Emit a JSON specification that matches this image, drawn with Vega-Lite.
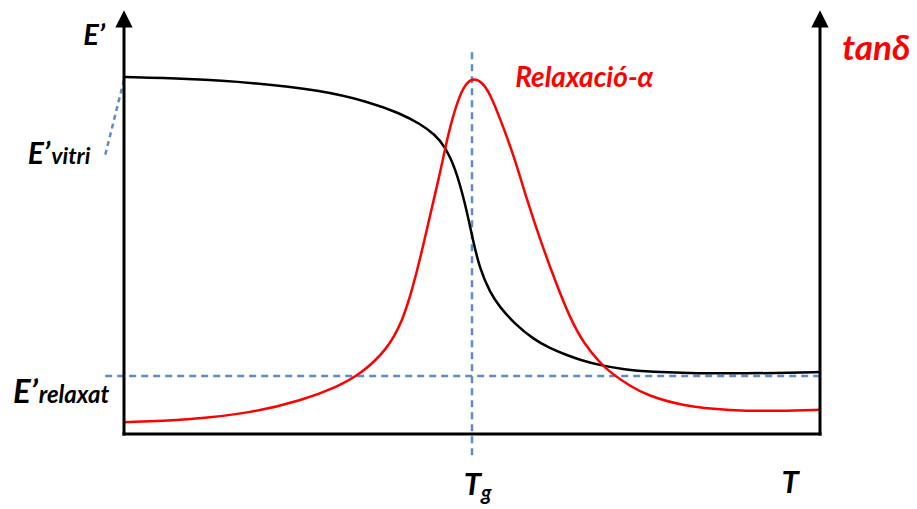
{
  "$schema": "https://vega.github.io/schema/vega-lite/v6.json",
  "autosize": "none",
  "width": 696,
  "height": 424,
  "padding": {"left": 124, "top": 10, "right": 97, "bottom": 75},
  "background": "white",
  "config": {"view": {"stroke": null}},
  "data": {"values": [{}]},
  "datasets": {
    "curves": [
      {"T": 0, "value": 84.2, "series": "E′"},
      {"T": 9.05, "value": 83.8, "series": "E′"},
      {"T": 18.5, "value": 82.9, "series": "E′"},
      {"T": 28.2, "value": 81.1, "series": "E′"},
      {"T": 35.3, "value": 78.3, "series": "E′"},
      {"T": 39.7, "value": 75.6, "series": "E′"},
      {"T": 42.5, "value": 73.2, "series": "E′"},
      {"T": 44.7, "value": 70.6, "series": "E′"},
      {"T": 46.1, "value": 67.8, "series": "E′"},
      {"T": 47.6, "value": 62.8, "series": "E′"},
      {"T": 49.0, "value": 54.5, "series": "E′"},
      {"T": 50.1, "value": 46.0, "series": "E′"},
      {"T": 51.1, "value": 39.0, "series": "E′"},
      {"T": 52.6, "value": 33.3, "series": "E′"},
      {"T": 54.0, "value": 29.9, "series": "E′"},
      {"T": 56.2, "value": 25.9, "series": "E′"},
      {"T": 58.8, "value": 22.4, "series": "E′"},
      {"T": 61.2, "value": 20.2, "series": "E′"},
      {"T": 63.6, "value": 18.6, "series": "E′"},
      {"T": 65.5, "value": 17.5, "series": "E′"},
      {"T": 68.4, "value": 16.2, "series": "E′"},
      {"T": 72.0, "value": 15.2, "series": "E′"},
      {"T": 75.1, "value": 14.7, "series": "E′"},
      {"T": 84.6, "value": 14.2, "series": "E′"},
      {"T": 94.3, "value": 14.4, "series": "E′"},
      {"T": 100, "value": 14.6, "series": "E′"},
      {"T": 0, "value": 2.8, "series": "tanδ"},
      {"T": 9.05, "value": 3.3, "series": "tanδ"},
      {"T": 18.5, "value": 5.0, "series": "tanδ"},
      {"T": 25.7, "value": 8.0, "series": "tanδ"},
      {"T": 30.6, "value": 11.1, "series": "tanδ"},
      {"T": 33.9, "value": 14.0, "series": "tanδ"},
      {"T": 37.8, "value": 19.8, "series": "tanδ"},
      {"T": 40.1, "value": 26.9, "series": "tanδ"},
      {"T": 41.5, "value": 34.7, "series": "tanδ"},
      {"T": 42.5, "value": 41.0, "series": "tanδ"},
      {"T": 44.0, "value": 51.7, "series": "tanδ"},
      {"T": 45.0, "value": 58.7, "series": "tanδ"},
      {"T": 45.8, "value": 64.6, "series": "tanδ"},
      {"T": 46.8, "value": 72.4, "series": "tanδ"},
      {"T": 48.3, "value": 80.4, "series": "tanδ"},
      {"T": 49.3, "value": 83.0, "series": "tanδ"},
      {"T": 50.3, "value": 83.9, "series": "tanδ"},
      {"T": 51.4, "value": 83.0, "series": "tanδ"},
      {"T": 52.6, "value": 80.4, "series": "tanδ"},
      {"T": 54.5, "value": 72.4, "series": "tanδ"},
      {"T": 56.2, "value": 64.6, "series": "tanδ"},
      {"T": 57.9, "value": 55.2, "series": "tanδ"},
      {"T": 59.8, "value": 45.8, "series": "tanδ"},
      {"T": 61.9, "value": 36.3, "series": "tanδ"},
      {"T": 64.1, "value": 27.2, "series": "tanδ"},
      {"T": 66.2, "value": 21.0, "series": "tanδ"},
      {"T": 68.4, "value": 16.8, "series": "tanδ"},
      {"T": 69.8, "value": 14.6, "series": "tanδ"},
      {"T": 72.7, "value": 11.3, "series": "tanδ"},
      {"T": 75.1, "value": 9.2, "series": "tanδ"},
      {"T": 79.9, "value": 6.7, "series": "tanδ"},
      {"T": 87.1, "value": 5.5, "series": "tanδ"},
      {"T": 94.3, "value": 5.4, "series": "tanδ"},
      {"T": 100, "value": 5.7, "series": "tanδ"}
    ]
  },
  "encoding": {
    "x": {"type": "quantitative", "scale": {"domain": [0, 100], "nice": false, "zero": false}, "axis": null},
    "y": {"type": "quantitative", "scale": {"domain": [0, 100], "nice": false, "zero": false}, "axis": null}
  },
  "layer": [
    {
      "description": "Dashed guide lines: Tg and the relaxed modulus level",
      "mark": {"type": "rule", "color": "#5B8CCB", "strokeWidth": 2.5, "strokeDash": [7, 5]},
      "encoding": {"x": {"datum": 50}, "y": {"datum": -5}, "y2": {"datum": 91}}
    },
    {
      "mark": {"type": "rule", "color": "#5B8CCB", "strokeWidth": 2.5, "strokeDash": [7, 5]},
      "encoding": {"x": {"datum": -2.7}, "x2": {"datum": 100}, "y": {"datum": 13.7}}
    },
    {
      "mark": {"type": "rule", "color": "#5B8CCB", "strokeWidth": 2.5, "strokeDash": [5, 4]},
      "encoding": {"x": {"datum": 0}, "x2": {"datum": -2.7}, "y": {"datum": 83.5}, "y2": {"datum": 65.8}}
    },
    {
      "description": "Curves: storage modulus (black) and loss tangent (red)",
      "data": {"name": "curves"},
      "mark": {"type": "line", "strokeWidth": 2.5, "interpolate": "basis"},
      "encoding": {
        "x": {"field": "T"},
        "y": {"field": "value"},
        "color": {"field": "series", "type": "nominal", "scale": {"domain": ["E′", "tanδ"], "range": ["#000000", "#ff0000"]}, "legend": null}
      }
    },
    {
      "description": "Frame: left, right and bottom axis lines",
      "mark": {"type": "rule", "color": "black", "strokeWidth": 3, "strokeCap": "square"},
      "encoding": {"x": {"datum": 0}, "y": {"datum": 0}, "y2": {"datum": 97}}
    },
    {
      "mark": {"type": "rule", "color": "black", "strokeWidth": 3, "strokeCap": "square"},
      "encoding": {"x": {"datum": 100}, "y": {"datum": 0}, "y2": {"datum": 97}}
    },
    {
      "mark": {"type": "rule", "color": "black", "strokeWidth": 3, "strokeCap": "square"},
      "encoding": {"x": {"datum": 0}, "x2": {"datum": 100}, "y": {"datum": 0}}
    },
    {
      "description": "Arrow heads on the vertical axes",
      "data": {"values": [{"T": 0}, {"T": 100}]},
      "mark": {"type": "point", "shape": "M0,-1L1,1L-1,1Z", "size": 300, "filled": true, "color": "black", "opacity": 1, "strokeWidth": 0},
      "encoding": {"x": {"field": "T"}, "y": {"datum": 97.9}}
    },
    {
      "mark": {"type": "text", "text": "E’", "font": "Lato", "fontWeight": "bold", "fontStyle": "italic", "fontSize": 29, "align": "center", "baseline": "alphabetic", "color": "black"},
      "encoding": {"x": {"datum": -4.3}, "y": {"datum": 91.7}}
    },
    {
      "mark": {"type": "text", "text": "E’", "font": "Lato", "fontWeight": "bold", "fontStyle": "italic", "fontSize": 30, "align": "right", "baseline": "alphabetic", "color": "black"},
      "encoding": {"x": {"datum": -10.6}, "y": {"datum": 63.7}}
    },
    {
      "mark": {"type": "text", "text": "vitri", "font": "Lato", "fontWeight": "bold", "fontStyle": "italic", "fontSize": 23, "align": "left", "baseline": "alphabetic", "color": "black", "dx": 1},
      "encoding": {"x": {"datum": -10.6}, "y": {"datum": 63.7}}
    },
    {
      "mark": {"type": "text", "text": "E’", "font": "Lato", "fontWeight": "bold", "fontStyle": "italic", "fontSize": 33, "align": "right", "baseline": "alphabetic", "color": "black"},
      "encoding": {"x": {"datum": -12.4}, "y": {"datum": 7.3}}
    },
    {
      "mark": {"type": "text", "text": "relaxat", "font": "Lato", "fontWeight": "bold", "fontStyle": "italic", "fontSize": 24, "align": "left", "baseline": "alphabetic", "color": "black", "dx": 1},
      "encoding": {"x": {"datum": -12.4}, "y": {"datum": 7.3}}
    },
    {
      "mark": {"type": "text", "text": "T", "font": "Lato", "fontWeight": "bold", "fontStyle": "italic", "fontSize": 31, "align": "right", "baseline": "alphabetic", "color": "black"},
      "encoding": {"x": {"datum": 51.3}, "y": {"datum": -14.4}}
    },
    {
      "mark": {"type": "text", "text": "g", "font": "Lato", "fontWeight": "bold", "fontStyle": "italic", "fontSize": 21, "align": "left", "baseline": "alphabetic", "color": "black", "dy": 5},
      "encoding": {"x": {"datum": 51.3}, "y": {"datum": -14.4}}
    },
    {
      "mark": {"type": "text", "text": "T", "font": "Lato", "fontWeight": "bold", "fontStyle": "italic", "fontSize": 31, "align": "center", "baseline": "alphabetic", "color": "black"},
      "encoding": {"x": {"datum": 95.7}, "y": {"datum": -13.9}}
    },
    {
      "mark": {"type": "text", "text": "Relaxació-α", "font": "Lato", "fontWeight": "bold", "fontStyle": "italic", "fontSize": 28, "align": "left", "baseline": "alphabetic", "color": "#ff0000"},
      "encoding": {"x": {"datum": 56.2}, "y": {"datum": 81.8}}
    },
    {
      "mark": {"type": "text", "text": "tanδ", "font": "Lato", "fontWeight": "bold", "fontStyle": "italic", "fontSize": 35, "align": "left", "baseline": "alphabetic", "color": "#ff0000"},
      "encoding": {"x": {"datum": 103.2}, "y": {"datum": 88.2}}
    }
  ]
}
